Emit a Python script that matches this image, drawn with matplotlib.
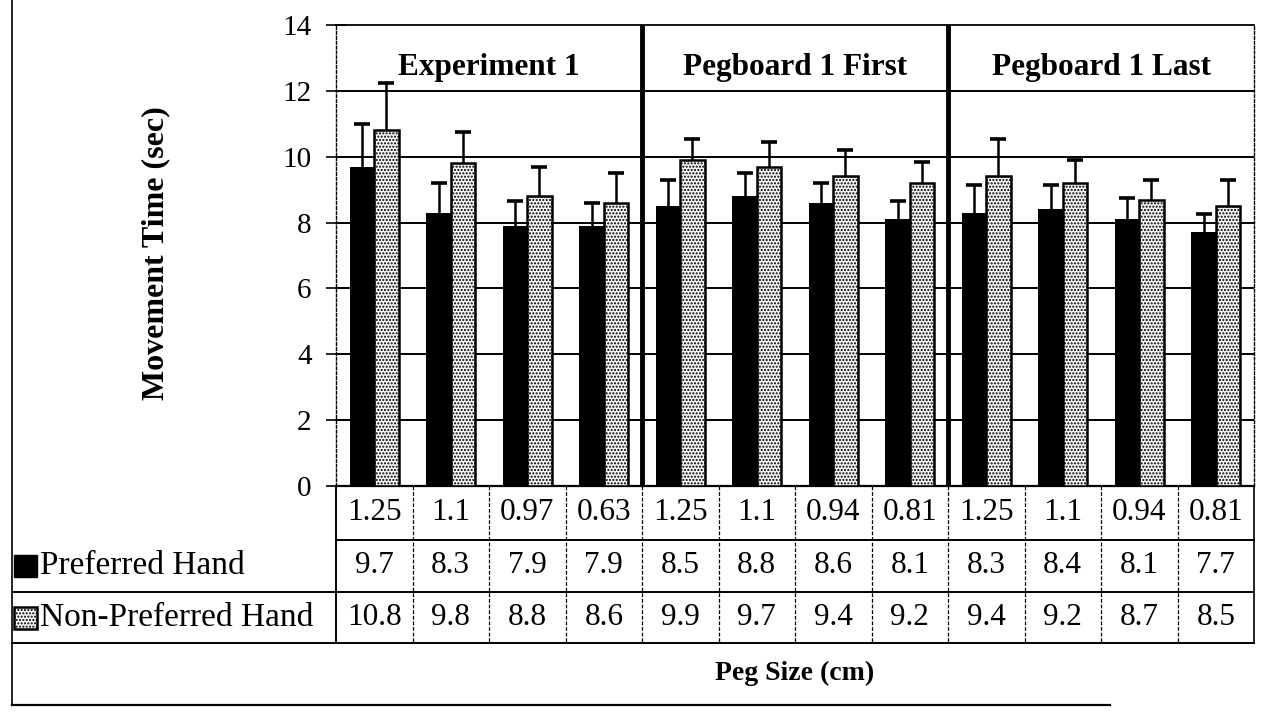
import numpy as np
import matplotlib
matplotlib.use("Agg")
import matplotlib.pyplot as plt
from matplotlib.patches import Rectangle
from matplotlib.transforms import blended_transform_factory

plt.rcParams['font.family'] = ['Liberation Serif', 'DejaVu Serif']
plt.rcParams['hatch.linewidth'] = 1.0

# data
groups = ['Experiment 1', 'Pegboard 1 First', 'Pegboard 1 Last']
peg_sizes = ['1.25', '1.1', '0.97', '0.63',
             '1.25', '1.1', '0.94', '0.81',
             '1.25', '1.1', '0.94', '0.81']
preferred = [9.7, 8.3, 7.9, 7.9, 8.5, 8.8, 8.6, 8.1, 8.3, 8.4, 8.1, 7.7]
non_preferred = [10.8, 9.8, 8.8, 8.6, 9.9, 9.7, 9.4, 9.2, 9.4, 9.2, 8.7, 8.5]
preferred_sd = [1.3, 0.9, 0.75, 0.7, 0.8, 0.7, 0.6, 0.55, 0.85, 0.75, 0.65, 0.55]
non_preferred_sd = [1.45, 0.95, 0.9, 0.9, 0.65, 0.75, 0.8, 0.65, 1.15, 0.7, 0.6, 0.8]
series_names = ['Preferred Hand', 'Non-Preferred Hand']

n = len(peg_sizes)
x = np.arange(n)
bw = 0.32

fig = plt.figure(figsize=(12.66, 7.15), dpi=100)
W, H = 1266, 715
ax = fig.add_axes([336 / W, 1 - 486 / H, 918 / W, 461 / H])

stipple = dict(facecolor='#f4f4f4', edgecolor='black', hatch='.....', linewidth=1.8)

ax.bar(x - bw / 2, preferred, bw, color='black', zorder=3)
ax.bar(x + bw / 2, non_preferred, bw, zorder=3, **stipple)

for xs, m, sd in [(x - bw / 2, preferred, preferred_sd),
                  (x + bw / 2, non_preferred, non_preferred_sd)]:
    _, caps, _ = ax.errorbar(xs, m, yerr=[np.zeros(n), sd], fmt='none',
                             ecolor='black', elinewidth=1.8, capsize=6,
                             capthick=2.6, zorder=4)
    caps[0].set_visible(False)

ax.set_xlim(-0.5, n - 0.5)
ax.set_ylim(0, 14)
ax.set_yticks(range(0, 15, 2))
ax.set_xticks([])
for yv in range(2, 13, 2):
    ax.axhline(yv, color='black', lw=1.4, zorder=1)
ax.tick_params(axis='y', direction='inout', length=15, width=1.2, pad=10,
               labelsize=21)

for s in ['left', 'right']:
    ax.spines[s].set_linestyle((0, (2, 1.5)))
    ax.spines[s].set_linewidth(1.0)
ax.spines['top'].set_linewidth(1.3)
ax.spines['bottom'].set_linewidth(1.6)

# group separators and titles
for k, g in enumerate(groups):
    ax.text(4 * k + 1.5, 12.7, g, ha='center', va='center', fontsize=22.5,
            fontweight='bold')
    if k > 0:
        ax.axvline(4 * k - 0.5, color='black', lw=3.5, zorder=5)

ax.set_ylabel('Movement Time (sec)', fontsize=23, fontweight='bold')
ax.yaxis.set_label_coords(-0.181, 0.505)

# data table underneath
tr = blended_transform_factory(ax.transData, ax.transAxes)
rows = [0, -0.117, -0.230, -0.341]
bottom = -0.475
left = -4.735
line = dict(color='black', transform=tr, clip_on=False)

ax.plot([-0.5, n - 0.5], [rows[1]] * 2, lw=1.4, **line)
ax.plot([left, n - 0.5], [rows[2]] * 2, lw=1.4, **line)
ax.plot([left, n - 0.5], [rows[3]] * 2, lw=1.4, **line)
ax.plot([left, 9.62], [bottom] * 2, lw=1.6, **line)
ax.plot([left, left], [1.054, bottom], lw=1.2, **line)
ax.plot([-0.5, -0.5], [0, rows[3]], lw=1.4, **line)
ax.plot([n - 0.5, n - 0.5], [0, rows[3]], lw=1.2, **line)
for b in np.arange(0.5, n - 0.5, 1):
    ax.plot([b, b], [0, rows[3]], lw=0.9, ls=(0, (3, 1.5)), **line)

def mid(a, b):
    return (a + b) / 2

for i in range(n):
    ax.text(x[i], mid(rows[0], rows[1]), peg_sizes[i], transform=tr,
            ha='center', va='center', fontsize=22.5)
    ax.text(x[i], mid(rows[1], rows[2]), f'{preferred[i]:.1f}', transform=tr,
            ha='center', va='center', fontsize=22.5)
    ax.text(x[i], mid(rows[2], rows[3]), f'{non_preferred[i]:.1f}', transform=tr,
            ha='center', va='center', fontsize=22.5)

sq_w, sq_h = 0.29, 0.048
key_styles = [dict(facecolor='black', edgecolor='black'), stipple]
for r, (name, st) in enumerate(zip(series_names, key_styles)):
    yc = mid(rows[r + 1], rows[r + 2])
    ax.add_patch(Rectangle((left + 0.03, yc - sq_h / 2), sq_w, sq_h,
                           transform=tr, clip_on=False, **st))
    ax.text(left + 0.37, yc, name, transform=tr, ha='left', va='center',
            fontsize=24)

ax.text(5.5, -0.406, 'Peg Size (cm)', transform=tr, ha='center',
        va='center', fontsize=20, fontweight='bold')

fig.savefig('out.png', dpi=100)
